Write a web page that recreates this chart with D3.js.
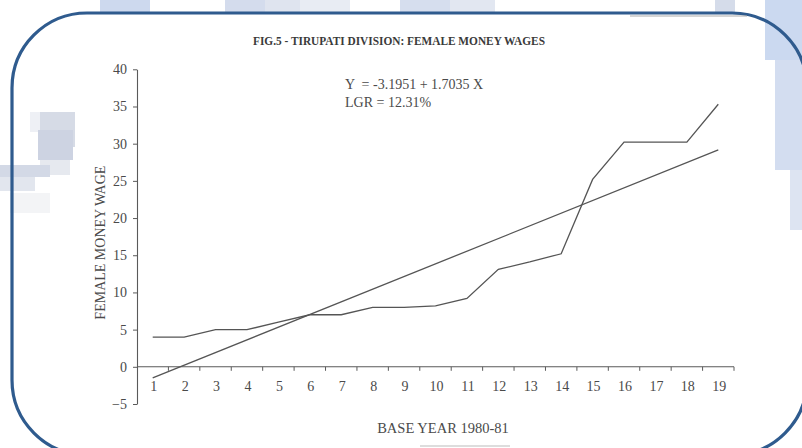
<!DOCTYPE html>
<html>
<head>
<meta charset="utf-8">
<script src="https://cdn.jsdelivr.net/npm/d3@7"></script>
<style>
  html, body { margin: 0; padding: 0; background: #ffffff; }
  svg { display: block; }
  text { font-family: "Liberation Serif", "DejaVu Serif", serif; }
</style>
</head>
<body>
<svg id="chart" width="802" height="448"></svg>
<script>
// Years counted from the 1980-81 base year
const years = ["1","2","3","4","5","6","7","8","9","10","11","12","13","14","15","16","17","18","19"];
// Female money wages per year
const wages = [4, 4, 5, 5, 6, 7, 7, 8, 8, 8.2, 9.2, 13.1, 14.1, 15.2, 25.2, 30.2, 30.2, 30.2, 35.3];
// Fitted linear trend Y = a + bX
const trendIntercept = -3.1951;
const trendSlope = 1.7035;
const growthRate = "12.31%";
const yTicks = [-5, 0, 5, 10, 15, 20, 25, 30, 35, 40];

const svg = d3.select("#chart");

// page backdrop: soft blue tiles around the framed panel
const deco = svg.append("g");
const tiles = [
  [100, 0, 50, 14, "#cdd9ee"], [225, 0, 40, 14, "#d4dced"], [265, 0, 35, 14, "#dfe4ef"],
  [300, 0, 50, 14, "#e8ecf3"], [400, 0, 50, 14, "#d6deee"], [450, 0, 45, 14, "#e2e7f1"],
  [715, 0, 20, 14, "#d5dcea"], [765, 0, 37, 60, "#cbd9f0"], [775, 60, 27, 110, "#d3ddf0"],
  [790, 170, 12, 60, "#dde4f2"],
  [30, 112, 20, 20, "#eef0f5"], [40, 112, 35, 35, "#d6dbe6"], [38, 130, 35, 30, "#cdd3e2"],
  [40, 160, 30, 15, "#e6e9ef"], [0, 165, 50, 12, "#d3d9e6"], [0, 177, 35, 14, "#e2e6ee"],
  [10, 193, 40, 20, "#f3f4f6"]
];

// framed white panel (drawn first, tiles show through inside only where noted)
svg.append("rect")
  .attr("x", 12).attr("y", 13)
  .attr("width", 795).attr("height", 442)
  .attr("rx", 75).attr("ry", 75)
  .attr("fill", "#ffffff");

deco.raise();
deco.selectAll("rect").data(tiles).join("rect")
  .attr("x", d => d[0]).attr("y", d => d[1])
  .attr("width", d => d[2]).attr("height", d => d[3])
  .attr("fill", d => d[4]);

svg.append("rect")
  .attr("x", 12).attr("y", 13)
  .attr("width", 795).attr("height", 442)
  .attr("rx", 75).attr("ry", 75)
  .attr("fill", "none")
  .attr("stroke", "#2f5b8e")
  .attr("stroke-width", 3.2);

// faint rule lines on the page
svg.append("line").attr("x1", 630).attr("x2", 747).attr("y1", 16).attr("y2", 16)
  .attr("stroke", "#aaaaaa").attr("stroke-width", 1);
svg.append("line").attr("x1", 420).attr("x2", 510).attr("y1", 446).attr("y2", 446)
  .attr("stroke", "#bbbbbb").attr("stroke-width", 1);

const plotLeft = 137, plotRight = 734, plotTop = 69.3, plotBottom = 404;

const x = d3.scaleBand().domain(years).range([plotLeft, plotRight]).padding(0);
const y = d3.scaleLinear().domain([-5, 40]).range([plotBottom, plotTop]);
const cx = d => x(d) + x.bandwidth() / 2;

const ink = "#5a5a5a";

// title
svg.append("text")
  .attr("x", 253).attr("y", 45)
  .attr("textLength", 292).attr("lengthAdjust", "spacingAndGlyphs")
  .attr("font-size", 11.5).attr("font-weight", "bold")
  .attr("fill", "#3a3a3a")
  .text("FIG.5 - TIRUPATI DIVISION: FEMALE MONEY WAGES");

// y axis
const yAxis = d3.axisLeft(y).tickValues(yTicks).tickSize(4).tickSizeOuter(0).tickPadding(6);
const gy = svg.append("g").attr("transform", `translate(${plotLeft},0)`).call(yAxis);
gy.select(".domain").attr("stroke", ink).attr("stroke-width", 1.1);
gy.selectAll(".tick line").attr("stroke", ink);
gy.selectAll(".tick text").attr("font-size", 14).attr("fill", "#4a4a4a")
  .attr("font-family", "Liberation Serif, serif");

// x axis along zero, ticks at the year boundaries
const gx = svg.append("g").attr("transform", `translate(0,${y(0)})`);
gx.append("line").attr("x1", plotLeft).attr("x2", plotRight).attr("y1", 0).attr("y2", 0)
  .attr("stroke", ink).attr("stroke-width", 1.1);
const bounds = years.map(d => x(d) + x.bandwidth());
gx.selectAll("line.tk").data(bounds).join("line").attr("class", "tk")
  .attr("x1", d => d).attr("x2", d => d).attr("y1", 0).attr("y2", 4)
  .attr("stroke", ink).attr("stroke-width", 1);
gx.selectAll("text").data(years).join("text")
  .attr("x", d => cx(d) + 1).attr("y", 24)
  .attr("text-anchor", "middle")
  .attr("font-size", 14).attr("fill", "#4a4a4a")
  .text(d => d);

// axis titles
svg.append("text")
  .attr("transform", `translate(105,${(plotTop + plotBottom) / 2 + 6}) rotate(-90)`)
  .attr("text-anchor", "middle")
  .attr("font-size", 14).attr("fill", "#4a4a4a")
  .text("FEMALE MONEY WAGE");
svg.append("text")
  .attr("x", 443).attr("y", 433)
  .attr("text-anchor", "middle")
  .attr("font-size", 14.5).attr("fill", "#4a4a4a")
  .text("BASE YEAR 1980-81");

// observed wages
const line = d3.line().x((d, i) => cx(years[i])).y(d => y(d));
svg.append("path").datum(wages)
  .attr("d", line)
  .attr("fill", "none").attr("stroke", "#555555").attr("stroke-width", 1.3)
  .attr("stroke-linejoin", "miter");

// fitted trend line
const xFirst = +years[0], xLast = +years[years.length - 1];
const trend = [
  [years[0], trendIntercept + trendSlope * xFirst],
  [years[years.length - 1], trendIntercept + trendSlope * xLast]
];
svg.append("path").datum(trend)
  .attr("d", d3.line().x(d => cx(d[0])).y(d => y(d[1])))
  .attr("fill", "none").attr("stroke", "#555555").attr("stroke-width", 1.3);

// equation annotation
svg.append("text")
  .attr("x", 345).attr("y", 89)
  .attr("font-size", 14).attr("fill", "#4a4a4a")
  .attr("xml:space", "preserve")
  .text(`Y  = ${trendIntercept} + ${trendSlope} X`);
svg.append("text")
  .attr("x", 345).attr("y", 107)
  .attr("font-size", 14).attr("fill", "#4a4a4a")
  .text(`LGR = ${growthRate}`);
</script>
</body>
</html>
